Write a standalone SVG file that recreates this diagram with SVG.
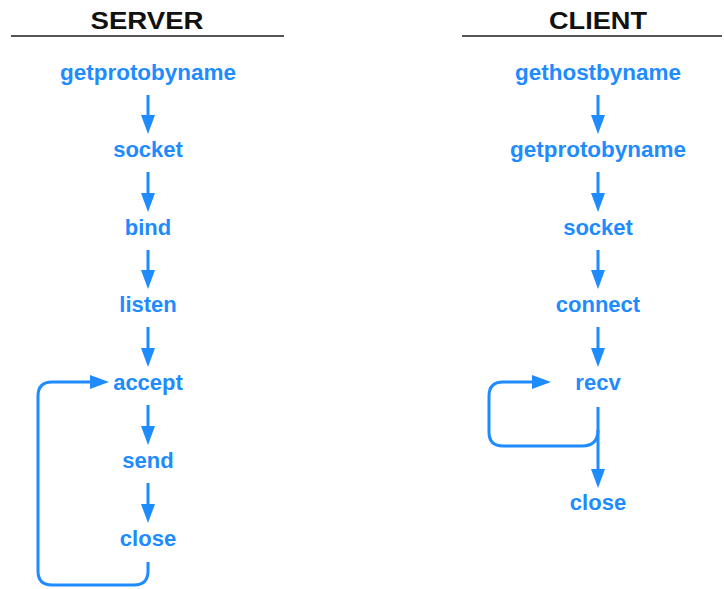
<svg xmlns="http://www.w3.org/2000/svg" width="724" height="589" viewBox="0 0 724 589">
<style>
.hdr{font-family:"Liberation Sans",Arial,sans-serif;font-weight:bold;font-size:23px;fill:#111;text-anchor:middle}
.lbl{font-family:"Liberation Sans",Arial,sans-serif;font-weight:bold;font-size:22px;fill:#1e8bff;text-anchor:middle}
.rule{stroke:#555;stroke-width:2;fill:none}
.con{stroke:#1e8bff;stroke-width:3;fill:none}
</style>
<defs>
<marker id="ah" markerUnits="userSpaceOnUse" markerWidth="20" markerHeight="14" refX="8" refY="7" orient="auto">
<path d="M0,0 L19,7 L0,14 z" fill="#1e8bff"/>
</marker>
</defs>
<g id="server-header">
<text class="hdr" x="147" y="29" textLength="113" lengthAdjust="spacingAndGlyphs">SERVER</text>
<line class="rule" x1="11" y1="36" x2="284" y2="36"/>
</g>
<g id="client-header">
<text class="hdr" x="598" y="29" textLength="98" lengthAdjust="spacingAndGlyphs">CLIENT</text>
<line class="rule" x1="462" y1="36" x2="722" y2="36"/>
</g>
<g id="s-getprotobyname"><text class="lbl" x="148" y="80" textLength="176" lengthAdjust="spacingAndGlyphs">getprotobyname</text></g>
<g id="s-socket"><text class="lbl" x="148" y="157">socket</text></g>
<g id="s-bind"><text class="lbl" x="148" y="235">bind</text></g>
<g id="s-listen"><text class="lbl" x="148" y="312">listen</text></g>
<g id="s-accept"><text class="lbl" x="148" y="390">accept</text></g>
<g id="s-send"><text class="lbl" x="148" y="468">send</text></g>
<g id="s-close"><text class="lbl" x="148" y="546">close</text></g>
<g id="c-gethostbyname"><text class="lbl" x="598" y="80" textLength="166" lengthAdjust="spacingAndGlyphs">gethostbyname</text></g>
<g id="c-getprotobyname"><text class="lbl" x="598" y="157" textLength="176" lengthAdjust="spacingAndGlyphs">getprotobyname</text></g>
<g id="c-socket"><text class="lbl" x="598" y="235">socket</text></g>
<g id="c-connect"><text class="lbl" x="598" y="312">connect</text></g>
<g id="c-recv"><text class="lbl" x="598" y="390">recv</text></g>
<g id="c-close"><text class="lbl" x="598" y="510">close</text></g>
<g id="connectors">
<line class="con" x1="148" y1="95" x2="148" y2="123" marker-end="url(#ah)"/>
<line class="con" x1="148" y1="172" x2="148" y2="201" marker-end="url(#ah)"/>
<line class="con" x1="148" y1="250" x2="148" y2="278" marker-end="url(#ah)"/>
<line class="con" x1="148" y1="327" x2="148" y2="356" marker-end="url(#ah)"/>
<line class="con" x1="148" y1="405" x2="148" y2="434" marker-end="url(#ah)"/>
<line class="con" x1="148" y1="483" x2="148" y2="512" marker-end="url(#ah)"/>
<path class="con" d="M148,562 L148,571 Q148,585 134,585 L52,585 Q38,585 38,571 L38,396 Q38,382 52,382 L98,382" marker-end="url(#ah)"/>
<line class="con" x1="598" y1="95" x2="598" y2="123" marker-end="url(#ah)"/>
<line class="con" x1="598" y1="172" x2="598" y2="201" marker-end="url(#ah)"/>
<line class="con" x1="598" y1="250" x2="598" y2="278" marker-end="url(#ah)"/>
<line class="con" x1="598" y1="327" x2="598" y2="356" marker-end="url(#ah)"/>
<line class="con" x1="598" y1="407" x2="598" y2="477" marker-end="url(#ah)"/>
<path class="con" d="M598,430 Q598,446 582,446 L503,446 Q489,446 489,432 L489,396 Q489,382 503,382 L540,382" marker-end="url(#ah)"/>
</g>
</svg>
